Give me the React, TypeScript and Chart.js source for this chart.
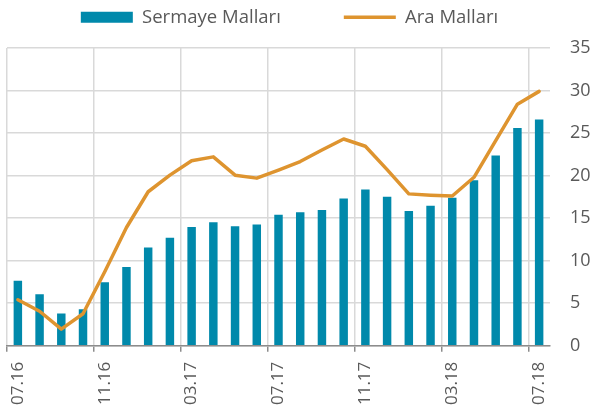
import React, { useEffect, useRef } from "react";
import { Chart, registerables } from "chart.js";

Chart.register(...registerables);

const months: string[] = [
  "07.16", "08.16", "09.16", "10.16", "11.16", "12.16", "01.17", "02.17", "03.17",
  "04.17", "05.17", "06.17", "07.17", "08.17", "09.17", "10.17", "11.17", "12.17",
  "01.18", "02.18", "03.18", "04.18", "05.18", "06.18", "07.18",
];

const sermayeMallari: number[] = [
  7.65, 6.05, 3.8, 4.3, 7.45, 9.25, 11.55, 12.7, 13.95, 14.5, 14.05, 14.25, 15.4,
  15.7, 15.95, 17.3, 18.35, 17.5, 15.85, 16.45, 17.4, 19.45, 22.35, 25.6, 26.6,
];

const araMallari: number[] = [
  5.4, 4.05, 1.95, 3.75, 8.7, 13.9, 18.1, 20.05, 21.75, 22.2, 20.05, 19.7, 20.65,
  21.65, 23.0, 24.3, 23.45, 20.7, 17.85, 17.7, 17.6, 19.8, 24.1, 28.4, 29.9,
];

const yTicks: number[] = [0, 5, 10, 15, 20, 25, 30, 35];

const TEAL = "#0089AB";
const ORANGE = "#DE942F";
const GRID = "#d9d9d9";
const AXIS = "#8c8c8c";
const TEXT = "#595959";
const FONT = "'Open Sans', 'Noto Sans', sans-serif";
const LEGEND_PAD = 63;

const legendShift = {
  id: "legendShift",
  afterLayout(chart: any) {
    const l = chart.legend;
    if (l) {
      l.left -= 10;
      l.right -= 10;
      l.top = 8 - LEGEND_PAD;
    }
  },
};

export default function App() {
  const ref = useRef<HTMLCanvasElement | null>(null);

  useEffect(() => {
    document.body.style.margin = "0";
    if (!ref.current) return;
    const chart = new Chart(ref.current, {
      type: "bar",
      data: {
        labels: months,
        datasets: [
          {
            type: "bar",
            label: "Sermaye Malları",
            data: sermayeMallari,
            backgroundColor: TEAL,
            borderWidth: 0,
            categoryPercentage: 1,
            barPercentage: 0.39,
            pointStyle: "rect",
            order: 1,
          } as any,
          {
            type: "line",
            label: "Ara Malları",
            data: araMallari,
            borderColor: ORANGE,
            backgroundColor: ORANGE,
            borderWidth: 3.5,
            borderJoinStyle: "round",
            borderCapStyle: "round",
            pointRadius: 0,
            pointStyle: "line",
            tension: 0,
            order: 0,
          } as any,
        ],
      },
      options: {
        animation: false,
        responsive: false,
        maintainAspectRatio: false,
        layout: { padding: { left: 7, right: 0, top: 0, bottom: 7 } },
        plugins: {
          tooltip: { enabled: false },
          legend: {
            position: "top",
            maxHeight: 48,
            labels: {
              usePointStyle: true,
              pointStyleWidth: 52,
              boxHeight: 11,
              padding: LEGEND_PAD,
              color: TEXT,
              font: { family: FONT, size: 18.5 },
              sort: (a: any, b: any) => a.datasetIndex - b.datasetIndex,
            },
          } as any,
        },
        scales: {
          x: {
            offset: true,
            afterFit: (axis: any) => {
              axis.paddingLeft = 0;
              axis.paddingRight = 0;
              axis.height = 59.3;
            },
            grid: {
              offset: true,
              color: (ctx: any) => (ctx.index !== undefined && ctx.index % 4 === 0 ? GRID : "rgba(0,0,0,0)"),
              tickColor: (ctx: any) => (ctx.index !== undefined && ctx.index % 4 === 0 ? AXIS : "rgba(0,0,0,0)"),
              lineWidth: 1.5,
              tickLength: 6,
              tickWidth: 1.5,
            },
            border: { color: AXIS, width: 1.5 },
            ticks: {
              autoSkip: false,
              maxRotation: 90,
              minRotation: 90,
              padding: 10,
              color: TEXT,
              font: { family: FONT, size: 17 },
              callback: (_v: any, i: number) => (i % 4 === 0 ? months[i] : ""),
            },
          },
          y: {
            position: "right",
            min: yTicks[0],
            max: yTicks[yTicks.length - 1],
            afterBuildTicks: (axis: any) => {
              axis.ticks = yTicks.map((v) => ({ value: v }));
            },
            afterFit: (axis: any) => {
              axis.paddingTop = 0;
              axis.paddingBottom = 0;
              axis.width = 42;
            },
            grid: { color: GRID, lineWidth: 1.5, drawTicks: false },
            border: { display: false },
            ticks: {
              padding: 20,
              color: TEXT,
              font: { family: FONT, size: 18 },
            },
          },
        },
      },
      plugins: [legendShift],
    });
    return () => chart.destroy();
  }, []);

  return <canvas ref={ref} width={592} height={412} style={{ display: "block" }} />;
}
